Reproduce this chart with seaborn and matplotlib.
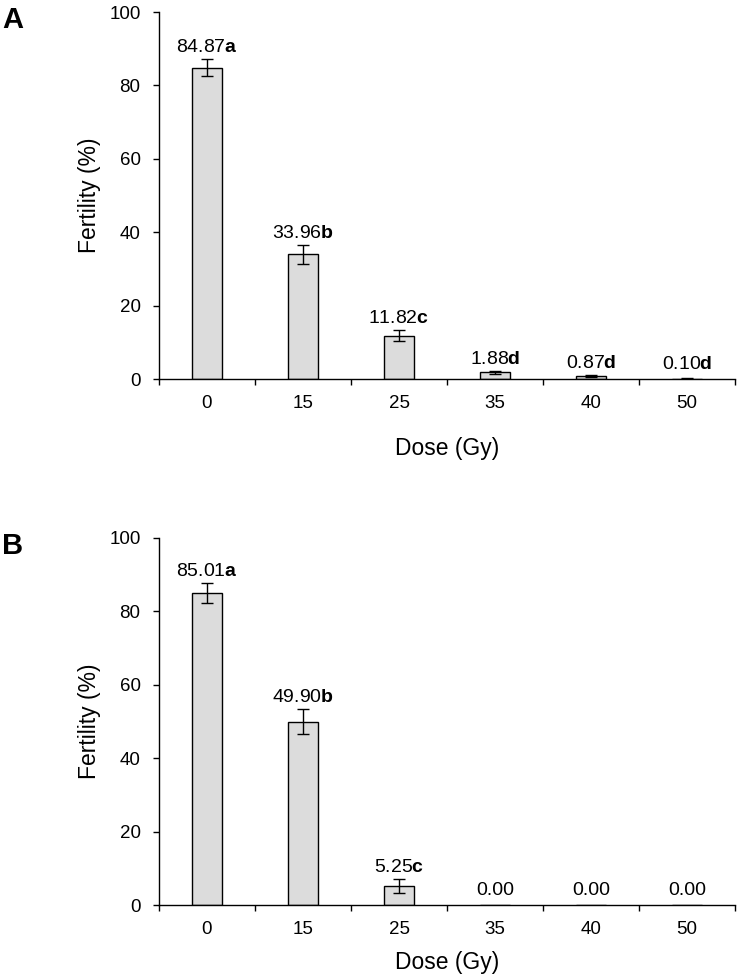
import numpy as np
import pandas as pd
import matplotlib
matplotlib.use('Agg')
import matplotlib.pyplot as plt
import seaborn as sns

sns.set_theme(style='white')
plt.rcParams['font.family'] = ['Liberation Sans', 'DejaVu Sans']
plt.rcParams['mathtext.fontset'] = 'custom'
plt.rcParams['mathtext.rm'] = 'Liberation Sans'
plt.rcParams['mathtext.bf'] = 'Liberation Sans:bold'

# Data
doses = ['0', '15', '25', '35', '40', '50']
fert_a = [84.87, 33.96, 11.82, 1.88, 0.87, 0.10]
err_a = [2.3, 2.5, 1.45, 0.4, 0.25, 0.05]
letters_a = ['a', 'b', 'c', 'd', 'd', 'd']
fert_b = [85.01, 49.90, 5.25, 0.00, 0.00, 0.00]
err_b = [2.7, 3.4, 1.9, 0.0, 0.0, 0.0]
letters_b = ['a', 'b', 'c', '', '', '']

fig = plt.figure(figsize=(7.37, 9.74), dpi=100)
ax_a = fig.add_axes([159 / 737, 1 - 379 / 974, 576 / 737, 367 / 974])
ax_b = fig.add_axes([159 / 737, 1 - 905 / 974, 576 / 737, 367 / 974])


def draw_panel(ax, vals, errs, letters, tag, xpad):
    df = pd.DataFrame({'dose': doses, 'fert': vals})
    sns.barplot(ax=ax, data=df, x='dose', y='fert', color='#dcdcdc',
                saturation=1, width=0.32, edgecolor='black', linewidth=1.0)
    pos = np.arange(len(doses))
    shown = np.array(errs) > 0
    ax.errorbar(pos[shown], np.array(vals)[shown], yerr=np.array(errs)[shown],
                fmt='none', ecolor='black', elinewidth=1.0, capsize=4, capthick=1.0)
    for i, (v, e, l) in enumerate(zip(vals, errs, letters)):
        txt = f'{v:.2f}' + (rf'$\mathbf{{{l}}}$' if l else '')
        ax.annotate(txt, (i, v + e), xytext=(0, 5 if v > 0.5 else 7),
                    textcoords='offset points', ha='center', va='baseline',
                    fontsize=14, color='black')

    ax.set_ylim(0, 100)
    ax.set_xlim(-0.5, len(doses) - 0.5)
    ax.set_yticks([0, 20, 40, 60, 80, 100])
    ax.set_xticks(np.arange(-0.5, len(doses)), minor=True)
    ax.tick_params(axis='x', which='major', length=0, pad=11.5, labelsize=13.5, colors='black')
    ax.tick_params(axis='x', which='minor', length=4.5, width=1.0, direction='out', color='black', bottom=True)
    ax.tick_params(axis='y', length=4.3, width=1.0, direction='out', left=True, pad=9,
                   labelsize=13.5, colors='black')
    for s in ['top', 'right']:
        ax.spines[s].set_visible(False)
    for s in ['left', 'bottom']:
        ax.spines[s].set_color('black')
        ax.spines[s].set_linewidth(1.0)
    ax.set_xlabel('Dose (Gy)', fontsize=16.5, labelpad=xpad, color='black')
    ax.set_ylabel('Fertility (%)', fontsize=16.5, labelpad=6, color='black')
    ax.annotate(tag, (0, 1), xycoords='axes fraction', xytext=(-157, 6),
                textcoords='offset pixels', fontsize=21, fontweight='bold',
                ha='left', va='top', color='black')


draw_panel(ax_a, fert_a, err_a, letters_a, 'A', 18)
draw_panel(ax_b, fert_b, err_b, letters_b, 'B', 9.5)

fig.savefig('out.png', dpi=100)
